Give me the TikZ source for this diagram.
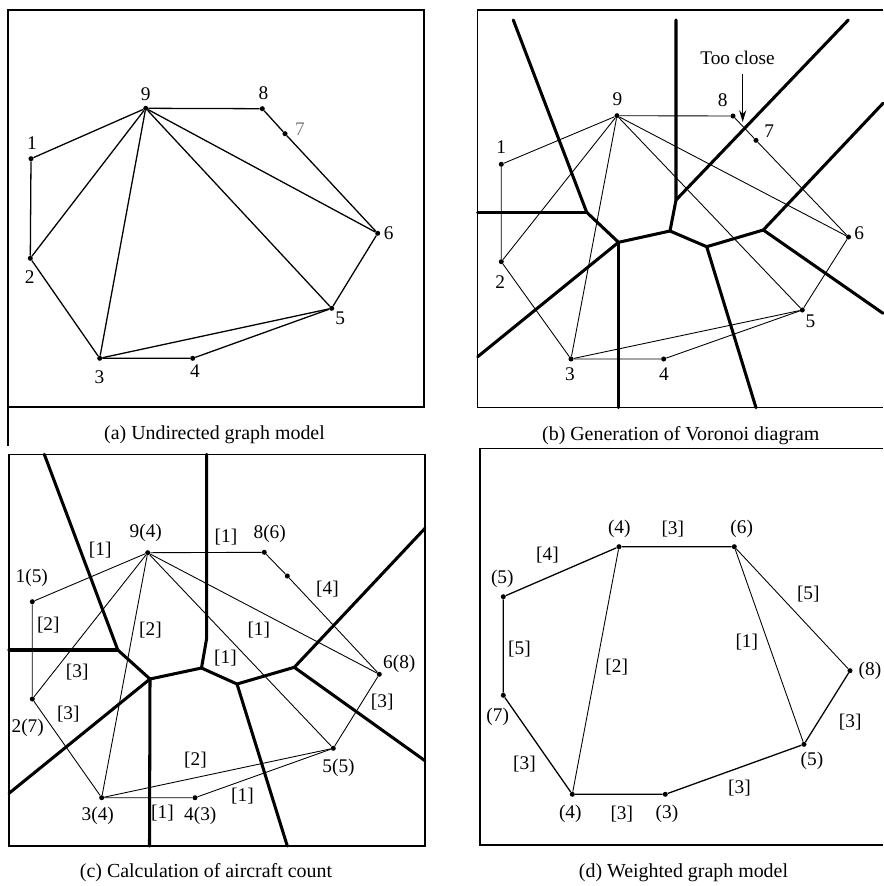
\documentclass[tikz,border=0pt]{standalone}
\usepackage{fontspec}
\setmainfont{Liberation Serif}
\usetikzlibrary{arrows.meta}
\tikzset{
  site/.style={circle, fill=black, inner sep=0pt, minimum size=4.3pt},
  vlabel/.style={inner sep=0pt, font=\fontsize{16.5}{19}\selectfont},
  wlabel/.style={inner sep=0pt, font=\fontsize{16.5}{19}\selectfont},
  caption/.style={inner sep=0pt, font=\fontsize{17}{20}\selectfont},
  panel/.style={line width=1.1pt},
  link/.style={line width=1.1pt},
  thinlink/.style={line width=0.75pt},
  cell/.style={line width=2.6pt, line cap=round, line join=round},
  pointer/.style={->, >={Stealth[length=10pt, width=6pt]}, line width=1.2pt}
}

\begin{document}
\begin{tikzpicture}[x=0.03cm, y=-0.03cm]
\useasboundingbox (0,0) rectangle (883,886);

% ── (a) Undirected graph model ──────────────────────────────
\draw[panel] (8,10) rectangle (424,407);
\draw[panel] (8,407) -- (8,446);

\node[site] (a1) at (31,158.7) {};
\node[site] (a2) at (30.3,258.3) {};
\node[site] (a3) at (99.7,358.3) {};
\node[site] (a4) at (192.7,358.3) {};
\node[site] (a5) at (331.7,308.3) {};
\node[site] (a6) at (377.7,233.3) {};
\node[site] (a7) at (285,133.7) {};
\node[site] (a8) at (262.3,108.7) {};
\node[site] (a9) at (145.7,108.3) {};

\draw[link] (a1) -- (a2) -- (a3) -- (a4) -- (a5) -- (a6) -- (a7) -- (a8) -- (a9) -- (a1);
\draw[link] (a9) -- (a2);
\draw[link] (a9) -- (a3);
\draw[link] (a9) -- (a5);
\draw[link] (a9) -- (a6);
\draw[link] (a3) -- (a5);

\node[vlabel] (la1) at (32,143.3) {1};
\node[vlabel] (la2) at (29.7,276.7) {2};
\node[vlabel] (la3) at (99.5,377) {3};
\node[vlabel] (la4) at (195,370.8) {4};
\node[vlabel] (la5) at (340.3,318.3) {5};
\node[vlabel] (la6) at (388.7,233.3) {6};
\node[vlabel, gray] (la7) at (300,129.3) {7};
\node[vlabel] (la8) at (263.5,92.7) {8};
\node[vlabel] (la9) at (145.7,94.2) {9};

\node[caption] (capa) at (214.5,435) {(a) Undirected graph model};

% ── (b) Generation of Voronoi diagram ──────────────────────
\draw[panel] (883,10) -- (477.7,10) -- (477.7,407.7) -- (883,407.7);

\node[site] (b1) at (501.3,164.3) {};
\node[site] (b2) at (501.3,261.7) {};
\node[site] (b3) at (571,359) {};
\node[site] (b4) at (663.7,359) {};
\node[site] (b5) at (802.3,310) {};
\node[site] (b6) at (848.5,237) {};
\node[site] (b7) at (756,140.3) {};
\node[site] (b8) at (733,116) {};
\node[site] (b9) at (617,115.7) {};

\draw[thinlink] (b1) -- (b2) -- (b3) -- (b4) -- (b5) -- (b6) -- (b7) -- (b8) -- (b9) -- (b1);
\draw[thinlink] (b9) -- (b2);
\draw[thinlink] (b9) -- (b3);
\draw[thinlink] (b9) -- (b5);
\draw[thinlink] (b9) -- (b6);
\draw[thinlink] (b3) -- (b5);

% Voronoi cells
\coordinate (bv1) at (586.7,212.3);
\coordinate (bv2) at (618.5,242.3);
\coordinate (bv3) at (670,231);
\coordinate (bv4) at (676,200);
\coordinate (bv5) at (706.7,246.7);
\coordinate (bv6) at (763.3,230);
\coordinate (bt1) at (513.3,20);
\coordinate (bl1) at (477.7,212.3);
\coordinate (bt4) at (676,20);
\coordinate (bd4) at (848.3,20);
\coordinate (br6) at (883,103.3);
\coordinate (bs6) at (883,313.3);
\coordinate (bb5) at (756,407.7);
\coordinate (bb2) at (618.5,407.7);
\coordinate (bl2) at (477.7,356.7);

\draw[cell] (bt1) -- (bv1) -- (bv2) -- (bv3) -- (bv5) -- (bv6) -- (br6);
\draw[cell] (bl1) -- (bv1);
\draw[cell] (bv3) -- (bv4) -- (bt4);
\draw[cell] (bv4) -- (bd4);
\draw[cell] (bv6) -- (bs6);
\draw[cell] (bv5) -- (bb5);
\draw[cell] (bv2) -- (bb2);
\draw[cell] (bv2) -- (bl2);

\node[vlabel] (lb1) at (501.3,147) {1};
\node[vlabel] (lb2) at (500.3,281.7) {2};
\node[vlabel] (lb3) at (570,373.8) {3};
\node[vlabel] (lb4) at (664,373.8) {4};
\node[vlabel] (lb5) at (810.5,321.3) {5};
\node[vlabel] (lb6) at (859.3,233) {6};
\node[vlabel] (lb7) at (769.2,131) {7};
\node[vlabel] (lb8) at (722.7,99.7) {8};
\node[vlabel] (lb9) at (617.5,99.3) {9};

\node[vlabel] (close) at (737.5,58) {Too close};
\coordinate (closetop) at (742.7,74);
\coordinate (closept) at (742.7,122);
\draw[pointer] (closetop) -- (closept);

\node[caption] (capb) at (680.8,436) {(b) Generation of Voronoi diagram};

% ── (c) Calculation of aircraft count ──────────────────────
\draw[panel] (9,454.3) rectangle (425,846);

\node[site] (c1) at (32.3,601.7) {};
\node[site] (c2) at (32.3,699) {};
\node[site] (c3) at (101.7,797.7) {};
\node[site] (c4) at (195,797.7) {};
\node[site] (c5) at (333.3,748.3) {};
\node[site] (c6) at (379.3,674.3) {};
\node[site] (c7) at (287.3,576) {};
\node[site] (c8) at (264.3,552.3) {};
\node[site] (c9) at (147.7,552.7) {};

\draw[thinlink] (c1) -- (c2) -- (c3) -- (c4) -- (c5) -- (c6) -- (c7) -- (c8) -- (c9) -- (c1);
\draw[thinlink] (c9) -- (c2);
\draw[thinlink] (c9) -- (c3);
\draw[thinlink] (c9) -- (c5);
\draw[thinlink] (c9) -- (c6);
\draw[thinlink] (c3) -- (c5);

% Voronoi cells
\coordinate (cv1) at (117.8,650);
\coordinate (cv2) at (150,679);
\coordinate (cv3) at (201.5,668);
\coordinate (cv4) at (206.7,638);
\coordinate (cv5) at (237,684);
\coordinate (cv6) at (294.3,667.3);
\coordinate (ct1) at (44.3,454.3);
\coordinate (cl1) at (9,650);
\coordinate (ct4) at (206.7,454.3);
\coordinate (cr6) at (425,528.3);
\coordinate (cs6) at (425,760.7);
\coordinate (cb5) at (287.3,846);
\coordinate (cb2) at (149.5,846);
\coordinate (cl2) at (9,793.3);

\draw[cell] (ct1) -- (cv1) -- (cv2) -- (cv3) -- (cv5) -- (cv6) -- (cr6);
\draw[cell] (cl1) -- (cv1);
\draw[cell] (cv3) -- (cv4) -- (ct4);
\draw[cell] (cv6) -- (cs6);
\draw[cell] (cv5) -- (cb5);
\draw[cell] (cv2) -- (cb2);
\draw[cell] (cv2) -- (cl2);

\node[vlabel] (lc1) at (31.8,577.5) {1(5)};
\node[vlabel] (lc2) at (27.7,727.5) {2(7)};
\node[vlabel] (lc3) at (97.8,815.8) {3(4)};
\node[vlabel] (lc4) at (200.3,815.8) {4(3)};
\node[vlabel] (lc5) at (338.5,768) {5(5)};
\node[vlabel] (lc6) at (399.3,664.3) {6(8)};
\node[vlabel] (lc8) at (269.7,534.2) {8(6)};
\node[vlabel] (lc9) at (145.8,533.3) {9(4)};

\node[wlabel] (wc19) at (100.2,550) {[1]};
\node[wlabel] (wc98) at (226,536.7) {[1]};
\node[wlabel] (wc76) at (327.5,589.5) {[4]};
\node[wlabel] (wc12) at (48.3,625) {[2]};
\node[wlabel] (wc93) at (150.5,629.7) {[2]};
\node[wlabel] (wc96) at (258.8,630.2) {[1]};
\node[wlabel] (wc95) at (225.5,657.8) {[1]};
\node[wlabel] (wc92) at (77.2,672.5) {[3]};
\node[wlabel] (wc65) at (382.2,702.5) {[3]};
\node[wlabel] (wc23) at (68.3,714.2) {[3]};
\node[wlabel] (wc35) at (195.5,760) {[2]};
\node[wlabel] (wc45) at (242.5,795.8) {[1]};
\node[wlabel] (wc34) at (162.5,812.7) {[1]};

\node[caption] (capc) at (206,873) {(c) Calculation of aircraft count};

% ── (d) Weighted graph model ──────────────────────────────
\draw[panel] (883,448.3) -- (480,448.3) -- (480,845) -- (883,845);

\node[site] (d9) at (619,546.7) {};
\node[site] (d8) at (734.3,546.7) {};
\node[site] (d1) at (503.3,596.7) {};
\node[site] (d2) at (503.3,695.3) {};
\node[site] (d3) at (572.3,794.3) {};
\node[site] (d4) at (665.3,794.3) {};
\node[site] (d5) at (804,744.3) {};
\node[site] (d6) at (850,670.7) {};

\draw[link] (d1) -- (d9) -- (d8);
\draw[link] (d1) -- (d2) -- (d3) -- (d4) -- (d5) -- (d6);
\draw[thinlink] (d9) -- (d3);
\draw[thinlink] (d8) -- (d5);
\draw[thinlink] (d8) -- (d6);

\node[vlabel] (ld9) at (619.3,529.2) {(4)};
\node[vlabel] (ld8) at (741.7,529.2) {(6)};
\node[vlabel] (ld1) at (502.3,579.2) {(5)};
\node[vlabel] (ld2) at (497.7,717.3) {(7)};
\node[vlabel] (ld3) at (570.3,813.8) {(4)};
\node[vlabel] (ld4) at (667,813.8) {(3)};
\node[vlabel] (ld5) at (812,761.2) {(5)};
\node[vlabel] (ld6) at (870,671.3) {(8)};

\node[wlabel] (wd19) at (547.5,554.7) {[4]};
\node[wlabel] (wd98) at (672.8,529.2) {[3]};
\node[wlabel] (wd86) at (808.3,594.2) {[5]};
\node[wlabel] (wd85) at (746.8,642.5) {[1]};
\node[wlabel] (wd12) at (519.5,648.8) {[5]};
\node[wlabel] (wd93) at (616.7,667.5) {[2]};
\node[wlabel] (wd65) at (850.2,721.8) {[3]};
\node[wlabel] (wd23) at (524.5,763.8) {[3]};
\node[wlabel] (wd45) at (739.5,788.5) {[3]};
\node[wlabel] (wd34) at (621.8,814.2) {[3]};

\node[caption] (capd) at (683.5,873) {(d) Weighted graph model};

\end{tikzpicture}
\end{document}
